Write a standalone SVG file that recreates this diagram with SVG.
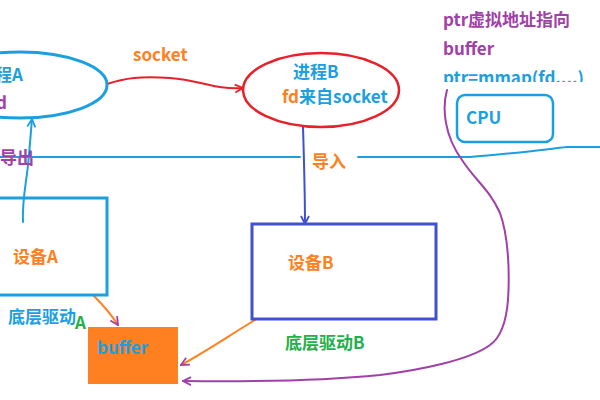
<svg xmlns="http://www.w3.org/2000/svg" width="600" height="400" viewBox="0 0 600 400">
<style>
text{font-family:"Noto Sans CJK SC","Microsoft YaHei",sans-serif;font-weight:bold;font-size:17px}
.blue{fill:#1aa0e0}.purple{fill:#a040a8}.orange{fill:#ff8020}.green{fill:#22b04a}
.ln{fill:none;stroke-linecap:round;stroke-linejoin:round}
</style>
<defs>
<marker id="arR" viewBox="0 0 10 10" refX="9" refY="5" markerWidth="10" markerHeight="10" orient="auto" markerUnits="userSpaceOnUse"><path d="M1,1 L9,5 L1,9" fill="none" stroke="#e8202a" stroke-width="1.8"/></marker>
<marker id="arP" viewBox="0 0 10 10" refX="9" refY="5" markerWidth="10" markerHeight="10" orient="auto" markerUnits="userSpaceOnUse"><path d="M1,1 L9,5 L1,9" fill="none" stroke="#a040a8" stroke-width="1.8"/></marker>
<marker id="arB" viewBox="0 0 10 10" refX="9" refY="5" markerWidth="10" markerHeight="10" orient="auto" markerUnits="userSpaceOnUse"><path d="M1,1 L9,5 L1,9" fill="none" stroke="#1aa0e0" stroke-width="1.8"/></marker>
<marker id="arD" viewBox="0 0 10 10" refX="9" refY="5" markerWidth="10" markerHeight="10" orient="auto" markerUnits="userSpaceOnUse"><path d="M1,1 L9,5 L1,9" fill="none" stroke="#4050d0" stroke-width="1.8"/></marker>
<clipPath id="clipTxt"><rect x="0" y="0" width="600" height="82"/></clipPath>
</defs>
<rect width="600" height="400" fill="#fff"/>

<g id="connectors">
<path class="ln" d="M0,157 L300,157 M358,157 L470,157 C500,155 540,150 567,147 L600,147" stroke="#1aa0e0" stroke-width="2"/>
<path class="ln" d="M107,84 C125,78 140,76 170,78 C200,80 215,90 243,88" stroke="#e8202a" stroke-width="2" marker-end="url(#arR)"/>
<path class="ln" d="M23,222 C22,200 26,185 28,165 C30,145 31,130 32,119" stroke="#1aa0e0" stroke-width="2" marker-end="url(#arB)"/>
<path class="ln" d="M303,127 C304,160 305,195 305,224" stroke="#4050d0" stroke-width="2" marker-end="url(#arD)"/>
<path class="ln" d="M93,295 C103,305 111,314 118,325" stroke="#ff8020" stroke-width="2" marker-end="url(#arP)"/>
<path class="ln" d="M255,320 C230,335 205,352 181,365" stroke="#ff8020" stroke-width="2" marker-end="url(#arP)"/>
<path class="ln" d="M447,90 C442,108 444,135 462,160 C475,180 490,190 500,213 C508,235 510,270 508,300 C506,325 500,338 490,345 C470,360 420,370 380,375 C330,380 260,382 183,381" stroke="#a040a8" stroke-width="2" marker-end="url(#arP)"/>
</g>

<g id="processA">
<ellipse cx="20" cy="85" rx="87" ry="33" fill="none" stroke="#1aa0e0" stroke-width="3"/>
<text x="23" y="81" class="blue" text-anchor="end">进程A</text>
<text x="7" y="109" class="purple" text-anchor="end">fd</text>
</g>

<g id="processB">
<ellipse cx="321" cy="90" rx="78" ry="37" fill="none" stroke="#e8202a" stroke-width="2.5"/>
<text x="293" y="78" class="blue">进程B</text>
<text x="282" y="103"><tspan class="orange">fd</tspan><tspan class="blue">来自socket</tspan></text>
</g>

<g id="deviceA">
<rect x="-10" y="198" width="117" height="97" fill="none" stroke="#1aa0e0" stroke-width="3"/>
<text x="13" y="263" class="orange">设备A</text>
</g>

<g id="deviceB">
<rect x="252" y="224" width="184" height="95" fill="none" stroke="#4050d0" stroke-width="3"/>
<text x="288" y="269" class="orange">设备B</text>
</g>

<g id="buffer">
<rect x="88" y="327" width="90" height="57" fill="#ff8020"/>
<text x="97" y="354" class="blue">buffer</text>
</g>

<g id="cpu">
<rect x="457" y="95" width="96" height="47" rx="8" fill="none" stroke="#1aa0e0" stroke-width="2.5"/>
<text x="466" y="124" class="blue">CPU</text>
</g>

<g id="labels">
<text x="133" y="61" class="orange">socket</text>
<text x="0" y="164" class="purple">导出</text>
<text x="312" y="168" class="orange">导入</text>
<text x="8" y="323" class="blue">底层驱动</text>
<text x="75" y="329" class="green">A</text>
<text x="285" y="349" class="green">底层驱动B</text>
<text x="443" y="26" class="purple">ptr虚拟地址指向</text>
<text x="443" y="55" class="purple">buffer</text>
<text x="443" y="84" class="blue" clip-path="url(#clipTxt)">ptr=mmap(fd....)</text>
</g>
</svg>
